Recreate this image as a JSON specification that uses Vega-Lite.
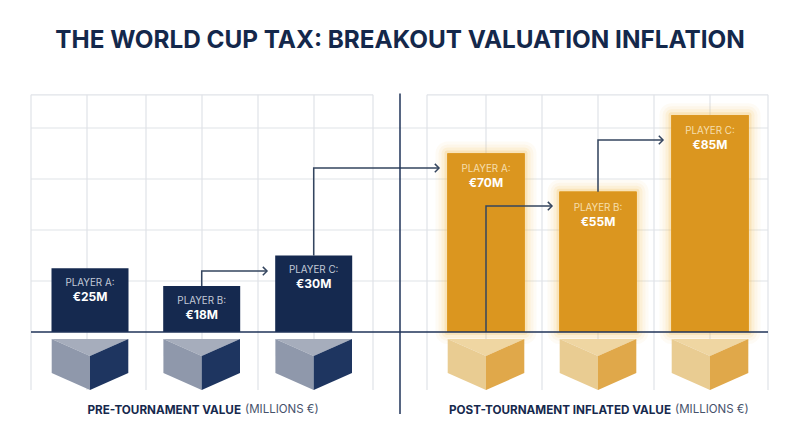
{
"$schema":"https://vega.github.io/schema/vega-lite/v6.json",
"width":800,"height":447,"autosize":{"type":"fit","contains":"padding"},"padding":0,"background":"#ffffff",
"view":{"stroke":null},
"datasets":{
"grid":[
{"x":31,"x2":768,"y":20,"y2":20},{"x":31,"x2":768,"y":40,"y2":40},{"x":31,"x2":768,"y":60,"y2":60},{"x":31,"x2":768,"y":80,"y2":80},
{"x":31,"x2":373,"y":93,"y2":93},{"x":427,"x2":768,"y":93,"y2":93},
{"x":31,"x2":31,"y":93,"y2":-22.7},{"x":87,"x2":87,"y":93,"y2":-22.7},{"x":146,"x2":146,"y":93,"y2":-22.7},{"x":202,"x2":202,"y":93,"y2":-22.7},{"x":258,"x2":258,"y":93,"y2":-22.7},{"x":314,"x2":314,"y":93,"y2":-22.7},{"x":373,"x2":373,"y":93,"y2":-22.7},
{"x":427,"x2":427,"y":93,"y2":-22.7},{"x":486,"x2":486,"y":93,"y2":-22.7},{"x":542,"x2":542,"y":93,"y2":-22.7},{"x":598,"x2":598,"y":93,"y2":-22.7},{"x":654,"x2":654,"y":93,"y2":-22.7},{"x":710,"x2":710,"y":93,"y2":-22.7},{"x":768,"x2":768,"y":93,"y2":-22.7}
],
"frame":[
{"x":31,"x2":768,"y":0,"y2":0},
{"x":400,"x2":400,"y":93.5,"y2":-32.2}
],
"heading":[{"x":400,"y":114.3,"text":"THE WORLD CUP TAX: BREAKOUT VALUATION INFLATION"}],
"bars":[
{"x":90,"y":25,"group":"pre","label":"PLAYER A:","amount":"€25M"},
{"x":201.7,"y":18,"group":"pre","label":"PLAYER B:","amount":"€18M"},
{"x":313.7,"y":30,"group":"pre","label":"PLAYER C:","amount":"€30M"},
{"x":486,"y":70,"group":"post","label":"PLAYER A:","amount":"€70M"},
{"x":598,"y":55,"group":"post","label":"PLAYER B:","amount":"€55M"},
{"x":710,"y":85,"group":"post","label":"PLAYER C:","amount":"€85M"}
],
"cubes":[
{"id":"a1","tone":"pre-top","x":51.7,"y":-2.75,"y2":-2.75},{"id":"a1","tone":"pre-top","x":90,"y":-9.4,"y2":-2.75},{"id":"a1","tone":"pre-top","x":128.3,"y":-2.75,"y2":-2.75},
{"id":"a2","tone":"pre-left","x":51.7,"y":-2.75,"y2":-16.1},{"id":"a2","tone":"pre-left","x":90,"y":-9.4,"y2":-22.75},
{"id":"a3","tone":"pre-right","x":90,"y":-9.4,"y2":-22.75},{"id":"a3","tone":"pre-right","x":128.3,"y":-2.75,"y2":-16.1},
{"id":"b1","tone":"pre-top","x":163.4,"y":-2.75,"y2":-2.75},{"id":"b1","tone":"pre-top","x":201.7,"y":-9.4,"y2":-2.75},{"id":"b1","tone":"pre-top","x":240,"y":-2.75,"y2":-2.75},
{"id":"b2","tone":"pre-left","x":163.4,"y":-2.75,"y2":-16.1},{"id":"b2","tone":"pre-left","x":201.7,"y":-9.4,"y2":-22.75},
{"id":"b3","tone":"pre-right","x":201.7,"y":-9.4,"y2":-22.75},{"id":"b3","tone":"pre-right","x":240,"y":-2.75,"y2":-16.1},
{"id":"c1","tone":"pre-top","x":275.4,"y":-2.75,"y2":-2.75},{"id":"c1","tone":"pre-top","x":313.7,"y":-9.4,"y2":-2.75},{"id":"c1","tone":"pre-top","x":352,"y":-2.75,"y2":-2.75},
{"id":"c2","tone":"pre-left","x":275.4,"y":-2.75,"y2":-16.1},{"id":"c2","tone":"pre-left","x":313.7,"y":-9.4,"y2":-22.75},
{"id":"c3","tone":"pre-right","x":313.7,"y":-9.4,"y2":-22.75},{"id":"c3","tone":"pre-right","x":352,"y":-2.75,"y2":-16.1},
{"id":"d1","tone":"post-top","x":447.7,"y":-2.75,"y2":-2.75},{"id":"d1","tone":"post-top","x":486,"y":-9.4,"y2":-2.75},{"id":"d1","tone":"post-top","x":524.3,"y":-2.75,"y2":-2.75},
{"id":"d2","tone":"post-left","x":447.7,"y":-2.75,"y2":-16.1},{"id":"d2","tone":"post-left","x":486,"y":-9.4,"y2":-22.75},
{"id":"d3","tone":"post-right","x":486,"y":-9.4,"y2":-22.75},{"id":"d3","tone":"post-right","x":524.3,"y":-2.75,"y2":-16.1},
{"id":"e1","tone":"post-top","x":559.7,"y":-2.75,"y2":-2.75},{"id":"e1","tone":"post-top","x":598,"y":-9.4,"y2":-2.75},{"id":"e1","tone":"post-top","x":636.3,"y":-2.75,"y2":-2.75},
{"id":"e2","tone":"post-left","x":559.7,"y":-2.75,"y2":-16.1},{"id":"e2","tone":"post-left","x":598,"y":-9.4,"y2":-22.75},
{"id":"e3","tone":"post-right","x":598,"y":-9.4,"y2":-22.75},{"id":"e3","tone":"post-right","x":636.3,"y":-2.75,"y2":-16.1},
{"id":"f1","tone":"post-top","x":671.7,"y":-2.75,"y2":-2.75},{"id":"f1","tone":"post-top","x":710,"y":-9.4,"y2":-2.75},{"id":"f1","tone":"post-top","x":748.3,"y":-2.75,"y2":-2.75},
{"id":"f2","tone":"post-left","x":671.7,"y":-2.75,"y2":-16.1},{"id":"f2","tone":"post-left","x":710,"y":-9.4,"y2":-22.75},
{"id":"f3","tone":"post-right","x":710,"y":-9.4,"y2":-22.75},{"id":"f3","tone":"post-right","x":748.3,"y":-2.75,"y2":-16.1}
],
"arrows":[
{"id":"pre-c","i":1,"x":313.7,"y":30},{"id":"pre-c","i":2,"x":313.7,"y":64.3},{"id":"pre-c","i":3,"x":439,"y":64.3},
{"id":"pre-b","i":1,"x":201.7,"y":18},{"id":"pre-b","i":2,"x":201.7,"y":23.9},{"id":"pre-b","i":3,"x":267,"y":23.9},
{"id":"post-a","i":1,"x":486,"y":0},{"id":"post-a","i":2,"x":486,"y":49.4},{"id":"post-a","i":3,"x":552,"y":49.4},
{"id":"post-b","i":1,"x":598,"y":55},{"id":"post-b","i":2,"x":598,"y":75.3},{"id":"post-b","i":3,"x":663,"y":75.3}
],
"tips":[{"x":439,"y":64.3},{"x":267,"y":23.9},{"x":552,"y":49.4},{"x":663,"y":75.3}],
"captions":[
{"x":241,"y":-30.6,"bold":"PRE-TOURNAMENT VALUE","rest":"(MILLIONS €)"},
{"x":671,"y":-30.6,"bold":"POST-TOURNAMENT INFLATED VALUE","rest":"(MILLIONS €)"}
]
},
"encoding":{
"x":{"field":"x","type":"quantitative","scale":{"domain":[0,800],"nice":false,"zero":false,"padding":0},"axis":null},
"y":{"field":"y","type":"quantitative","scale":{"domain":[-45.098,130.196],"nice":false,"zero":false,"padding":0},"axis":null}
},
"layer":[
{"data":{"name":"grid"},"mark":{"type":"rule","stroke":"#e0e3e8","strokeWidth":1.2},"encoding":{"x2":{"field":"x2"},"y2":{"field":"y2"}}},
{"data":{"name":"bars"},"transform":[{"filter":"datum.group==='post'"}],"mark":{"type":"bar","size":77,"orient":"vertical","fill":"#db961f","stroke":"#f7cd78","strokeWidth":24,"strokeOpacity":0.07,"strokeJoin":"round"},"encoding":{"y2":{"datum":0}}},
{"data":{"name":"bars"},"transform":[{"filter":"datum.group==='post'"}],"mark":{"type":"bar","size":77,"orient":"vertical","fill":"#db961f","stroke":"#f7cd78","strokeWidth":18,"strokeOpacity":0.09,"strokeJoin":"round"},"encoding":{"y2":{"datum":0}}},
{"data":{"name":"bars"},"transform":[{"filter":"datum.group==='post'"}],"mark":{"type":"bar","size":77,"orient":"vertical","fill":"#db961f","stroke":"#f5c45c","strokeWidth":12,"strokeOpacity":0.12,"strokeJoin":"round"},"encoding":{"y2":{"datum":0}}},
{"data":{"name":"bars"},"transform":[{"filter":"datum.group==='post'"}],"mark":{"type":"bar","size":77,"orient":"vertical","fill":"#db961f","stroke":"#f0b545","strokeWidth":6,"strokeOpacity":0.2,"strokeJoin":"round"},"encoding":{"y2":{"datum":0}}},
{"data":{"name":"bars"},"mark":{"type":"bar","size":77,"orient":"vertical"},"encoding":{"y2":{"datum":0},"color":{"field":"group","type":"nominal","scale":{"domain":["pre","post","pre-top","pre-left","pre-right","post-top","post-left","post-right"],"range":["#15294f","#db961f","#a6adbc","#8f98ab","#1e3560","#efd6a2","#e9cc92","#e0a84a"]},"legend":null}}},
{"data":{"name":"cubes"},"mark":{"type":"area","opacity":1},"encoding":{"y2":{"field":"y2"},"detail":{"field":"id"},"color":{"field":"tone","type":"nominal","scale":{"domain":["pre","post","pre-top","pre-left","pre-right","post-top","post-left","post-right"],"range":["#15294f","#db961f","#a6adbc","#8f98ab","#1e3560","#efd6a2","#e9cc92","#e0a84a"]},"legend":null}}},
{"data":{"name":"arrows"},"mark":{"type":"line","stroke":"#34455f","strokeWidth":1.5,"interpolate":"linear"},"encoding":{"detail":{"field":"id"},"order":{"field":"i"}}},
{"data":{"name":"tips"},"mark":{"type":"point","shape":"M-1,-1L0,0L-1,1","filled":false,"stroke":"#34455f","strokeWidth":1.5,"size":70,"opacity":1}},
{"data":{"name":"frame"},"mark":{"type":"rule","stroke":"#1f3358","strokeWidth":1.5},"encoding":{"x2":{"field":"x2"},"y2":{"field":"y2"}}},
{"data":{"name":"bars"},"transform":[{"filter":"datum.group==='pre'"}],"mark":{"type":"text","font":"Inter","fontSize":9.8,"dy":15,"baseline":"middle","align":"center","fill":"#c3cad8"},"encoding":{"text":{"field":"label"}}},
{"data":{"name":"bars"},"transform":[{"filter":"datum.group==='post'"}],"mark":{"type":"text","font":"Inter","fontSize":9.8,"dy":16,"baseline":"middle","align":"center","fill":"#f6dfae"},"encoding":{"text":{"field":"label"}}},
{"data":{"name":"bars"},"transform":[{"filter":"datum.group==='pre'"}],"mark":{"type":"text","font":"Inter","fontSize":12,"fontWeight":"bold","dy":28.5,"baseline":"middle","align":"center","fill":"#ffffff"},"encoding":{"text":{"field":"amount"}}},
{"data":{"name":"bars"},"transform":[{"filter":"datum.group==='post'"}],"mark":{"type":"text","font":"Inter","fontSize":12,"fontWeight":"bold","dy":30,"baseline":"middle","align":"center","fill":"#ffffff"},"encoding":{"text":{"field":"amount"}}},
{"data":{"name":"captions"},"mark":{"type":"text","font":"Inter","fontSize":11.7,"fontWeight":"bold","align":"right","baseline":"middle","fill":"#16294d"},"encoding":{"text":{"field":"bold"}}},
{"data":{"name":"captions"},"mark":{"type":"text","font":"Inter","fontSize":11.5,"align":"left","baseline":"middle","dx":4,"fill":"#46526b"},"encoding":{"text":{"field":"rest"}}},
{"data":{"name":"heading"},"mark":{"type":"text","font":"Inter","fontSize":24.3,"fontWeight":"bold","align":"center","baseline":"middle","fill":"#14284b"},"encoding":{"text":{"field":"text"}}}
]
}
